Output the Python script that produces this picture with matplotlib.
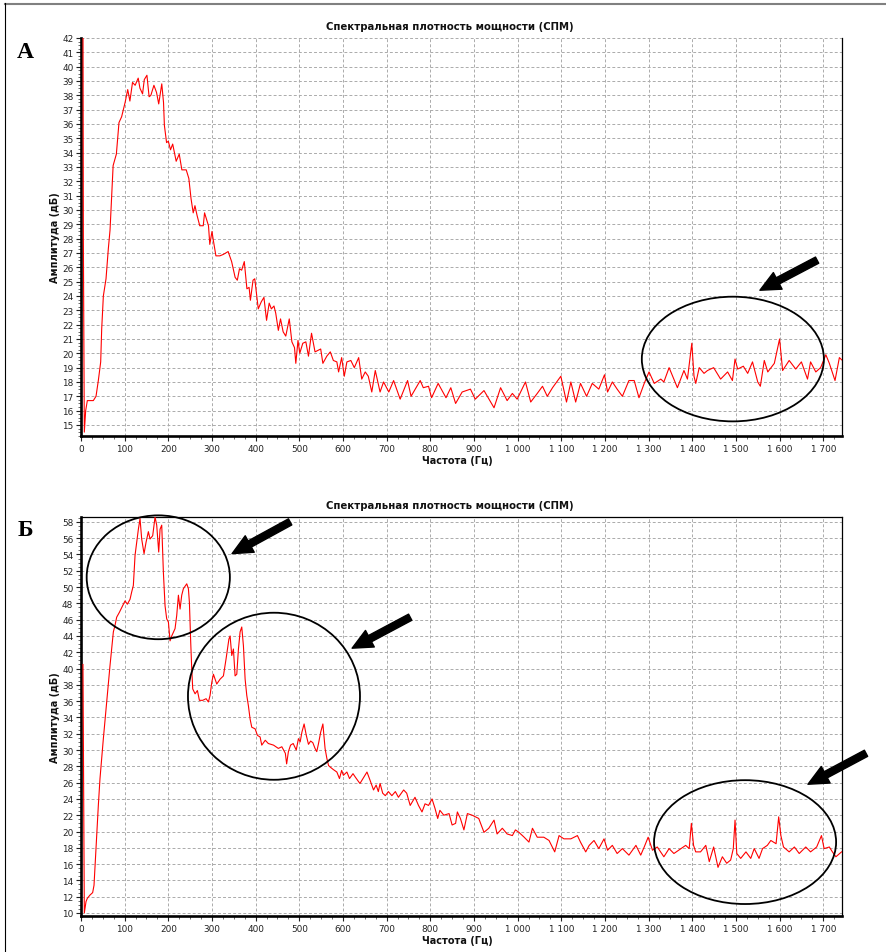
import matplotlib
matplotlib.use("Agg")
import matplotlib.pyplot as plt
import matplotlib.patches as patches
import matplotlib.lines as lines
from matplotlib.ticker import MultipleLocator, FuncFormatter

W, H, DPI = 887, 953, 100

title = "Спектральная плотность мощности (СПМ)"
x_label = "Частота (Гц)"
y_label = "Амплитуда (дБ)"
panel_letters = ["А", "Б"]

# panel A: frequency (Hz) and amplitude (dB)
freq_a = [4.5, 5.4, 7.6, 10.7, 14.5, 20.6, 28.2, 34.4, 39.7, 45.1, 47.4, 51.2, 57.3, 62.6, 66.5,
          73.6, 81, 87, 93, 101, 107, 112, 118, 124, 131, 135, 141, 145, 151, 156, 160, 167,
          173, 178, 185, 189, 191, 196, 200, 205, 210, 218, 225, 231, 241, 247, 252, 257, 261,
          266, 272, 280, 283, 292, 295, 300, 303, 309, 318, 326, 337, 345, 353, 358, 363, 368,
          374, 380, 385, 388, 394, 398, 406, 413, 419, 425, 431, 436, 442, 446, 452, 457, 463,
          469, 477, 483, 489, 492, 497, 501, 508, 515, 521, 528, 536, 549, 554, 563, 571, 578,
          586, 590, 597, 603, 609, 618, 626, 636, 643, 651, 658, 666, 674, 685, 693, 705, 716,
          731, 748, 756, 777, 784, 796, 803, 818, 836, 847, 858, 873, 892, 903, 923, 946, 961,
          976, 988, 999, 1018, 1030, 1045, 1057, 1068, 1080, 1099, 1112, 1122, 1133, 1144, 1158,
          1171, 1186, 1199, 1206, 1217, 1228, 1240, 1255, 1267, 1278, 1290, 1301, 1313, 1328,
          1335, 1347, 1366, 1381, 1389, 1399, 1404, 1408, 1416, 1427, 1435, 1449, 1465, 1481,
          1492, 1498, 1504, 1517, 1527, 1538, 1550, 1556, 1565, 1573, 1588, 1600, 1607, 1622,
          1637, 1650, 1664, 1671, 1683, 1694, 1706, 1714, 1727, 1737, 1744]
amp_a = [44.0, 28.0, 14.5, 16.0, 16.7, 16.7, 16.7, 17.0, 18.1, 19.4, 21.7, 24.0, 25.2, 27.3, 28.6,
         33.1, 33.9, 36.1, 36.5, 37.5, 38.4, 37.6, 38.9, 38.7, 39.2, 38.5, 38.1, 39.1, 39.4, 37.9, 38.0, 38.7,
         38.2, 37.4, 38.8, 37.5, 35.9, 34.7, 34.8, 34.2, 34.6, 33.4, 33.9, 32.8, 32.8, 32.2, 30.8, 29.8, 30.3,
         29.6, 28.9, 28.9, 29.8, 28.9, 27.6, 28.5, 27.9, 26.8, 26.8, 26.9, 27.1, 26.4, 25.3, 25.1, 25.9, 25.8,
         26.4, 24.5, 24.6, 23.7, 25.1, 25.2, 23.1, 23.6, 23.9, 22.3, 23.5, 23.1, 23.3, 22.8, 21.6, 22.4, 21.5,
         21.2, 22.4, 20.8, 20.4, 19.3, 20.9, 20.0, 20.7, 20.8, 19.8, 21.4, 20.1, 20.3, 19.3, 19.8, 20.1, 19.5,
         19.4, 18.7, 19.7, 18.4, 19.4, 19.5, 19.0, 19.7, 18.2, 18.7, 18.4, 17.3, 18.8, 17.3, 18.0, 17.3, 18.1,
         16.8, 18.1, 17.0, 18.1, 17.6, 17.7, 16.9, 17.9, 16.9, 17.6, 16.5, 17.3, 17.5, 16.8, 17.4, 16.2, 17.6,
         16.7, 17.2, 16.8, 18.0, 16.6, 17.2, 17.7, 17.0, 17.6, 18.4, 16.6, 18.0, 16.6, 17.9, 17.0,
         17.9, 17.5, 18.5, 17.3, 18.0, 17.5, 17.0, 18.1, 18.1, 16.9, 17.9, 18.7, 17.9, 18.2,
         18.0, 19.0, 17.6, 18.8, 18.2, 20.7, 18.4, 17.9, 19.0, 18.6, 18.8, 19.0, 18.2, 18.7,
         18.1, 19.6, 18.9, 19.1, 18.6, 19.4, 18.0, 17.7, 19.5, 18.7, 19.3, 21.0, 18.8, 19.5,
         18.9, 19.4, 18.2, 19.4, 18.7, 19.0, 19.9, 19.3, 18.1, 19.7, 19.5]

# panel Б
freq_b = [4.5, 7.6, 11.5, 14.5, 20.6, 26.7, 29.8, 34.4, 39.7, 43.5, 47.4, 51.2, 58.8, 66.5, 74.1,
          77.9, 81.7, 87.9, 97.0, 100.8, 106.2, 112.3, 116.1, 119.9, 123.8, 127.6, 131.4, 135.2,
          139.0, 144.4, 149.0, 154.3, 158.1, 164.2, 169.6, 173.4, 178.0, 181.1, 184.9, 188.7,
          192.5, 196.3, 200.2, 204.0, 207.8, 215.4, 219.2, 223.1, 226.9, 230.7, 234.5, 242.2,
          246.0, 248.3, 251.3, 253.6, 255.9, 261.3, 266.6, 271.2, 278.8, 286.5, 291.8, 295.6,
          299.5, 303.3, 307.1, 310.9, 318.6, 326.2, 332.3, 338.7, 341.5, 345.3, 349.1, 352.9,
          356.8, 360.6, 364.4, 368.2, 372.0, 375.9, 379.7, 383.5, 387.3, 391.1, 398.8, 404.1,
          410.2, 414, 418, 422, 429, 441, 452, 460, 468, 471, 475, 480, 486, 493, 498, 502, 506,
          511, 516, 521, 526, 531, 536, 540, 544, 549, 554, 557, 559, 563, 567, 571, 578, 586,
          592, 597, 601, 609, 615, 623, 628, 636, 639, 647, 655, 662, 670, 676, 681, 685, 691,
          697, 704, 712, 720, 727, 739, 746, 754, 765, 773, 781, 788, 796, 804, 811, 817, 822,
          831, 843, 850, 858, 862, 869, 877, 885, 896, 911, 923, 934, 946, 953, 965, 976, 988,
          995, 1003, 1015, 1026, 1034, 1045, 1060, 1072, 1085, 1095, 1106, 1122, 1137, 1144,
          1156, 1164, 1175, 1186, 1198, 1206, 1217, 1228, 1240, 1255, 1271, 1282, 1290, 1299,
          1309, 1320, 1335, 1347, 1358, 1374, 1385, 1393, 1398, 1403, 1408, 1419, 1431, 1439,
          1449, 1459, 1469, 1479, 1488, 1494, 1498, 1502, 1511, 1523, 1534, 1542, 1553, 1561,
          1572, 1580, 1592, 1598, 1603, 1609, 1622, 1634, 1645, 1660, 1671, 1685, 1696, 1702,
          1714, 1721, 1729, 1742]
amp_b = [40.5, 10.0, 11.4, 11.8, 12.2, 12.5, 13.4, 17.9, 23.2, 26.5, 29.0, 31.4, 35.9, 40.4, 44.5,
         45.3, 46.3, 46.9, 47.9, 48.3, 47.9, 48.5, 49.4, 50.2, 53.9, 55.5, 57.1, 58.4,
         55.9, 54.1, 55.5, 56.8, 55.9, 56.3, 58.6, 57.6, 54.3, 57.1, 57.6, 51.8,
         47.7, 46.1, 45.7, 43.4, 44.0, 44.9, 46.5, 49.0, 47.3, 49.0, 49.8, 50.4,
         49.8, 48.1, 43.2, 40.0, 37.5, 36.9, 37.3, 36.1, 36.1, 36.3, 35.9, 36.7,
         38.3, 39.3, 38.7, 38.1, 38.7, 39.1, 41.2, 43.6, 44.0, 41.6, 42.4, 39.1,
         39.3, 42.4, 44.5, 45.1, 42.8, 38.7, 36.7, 35.4, 33.8, 32.8, 32.6, 31.8,
         31.6, 30.6, 30.9, 31.2, 30.8, 30.6, 30.2, 30.4, 29.6, 28.3, 29.8, 30.6, 30.8, 30.0, 31.4, 31.0, 32.2,
         33.2, 31.8, 30.7, 31.1, 30.9, 30.2, 29.8, 30.8, 32.2, 33.2, 31.4, 30.2, 29.0, 28.1, 27.9, 27.6, 27.3,
         26.5, 27.5, 26.9, 27.3, 26.5, 27.1, 26.7, 26.1, 25.9, 26.6, 27.3, 26.3, 25.1, 25.7, 24.9, 25.9, 24.7,
         24.4, 24.9, 24.4, 24.9, 24.2, 25.1, 24.7, 23.2, 24.2, 23.2, 22.4, 23.4, 23.2, 24.0, 22.8, 21.6, 22.6,
         22.0, 22.2, 20.8, 21.0, 22.4, 21.6, 20.2, 22.2, 22.0, 21.6, 19.9, 20.4, 21.4, 19.7, 20.4, 19.7, 19.5,
         20.2, 19.9, 19.3, 18.7, 20.4, 19.3, 19.3, 18.9, 17.5, 19.5, 19.1, 19.1, 19.5, 18.7,
         17.5, 18.3, 18.9, 17.9, 19.1, 17.7, 18.3, 17.3, 17.9, 17.1, 18.3, 17.1, 18.1, 19.3,
         17.7, 18.1, 16.9, 17.9, 17.3, 17.9, 18.3, 17.9, 21.0, 18.3, 17.5, 17.5, 18.3, 16.3,
         18.1, 15.6, 16.9, 16.1, 16.5, 17.9, 21.4, 17.3, 16.7, 17.5, 16.7, 17.9, 16.7, 17.9,
         18.3, 18.9, 18.5, 21.8, 19.5, 18.1, 17.5, 18.1, 17.3, 18.1, 17.5, 18.1, 19.5, 17.9,
         18.1, 17.5, 16.9, 17.5]

x_max = 1743
ylim_a = (14.23, 42.0)
ylim_b = (9.63, 58.6)

# highlighted regions: (center Hz, center dB, width Hz, height dB)
ellipses_a = [(1493, 19.6, 417, 8.7)]
ellipses_b = [(177, 51.2, 328, 15.2), (442, 36.6, 394, 20.5), (1521, 18.7, 417, 15.2)]
# arrows: (tail Hz, tail dB, head Hz, head dB)
arrows_a = [(1686, 26.5, 1555, 24.4)]
arrows_b = [(479, 58.0, 346, 54.1), (754, 46.3, 621, 42.5), (1798, 29.6, 1665, 25.8)]


def hz_fmt(v, pos):
    return f"{int(round(v)):,}".replace(",", " ")


def style_axes(ax, ylim, ystep, yminor, top_visible):
    ax.set_xlim(0, x_max)
    ax.set_ylim(*ylim)
    ax.xaxis.set_major_locator(MultipleLocator(100))
    ax.xaxis.set_minor_locator(MultipleLocator(25))
    ax.yaxis.set_major_locator(MultipleLocator(ystep))
    ax.yaxis.set_minor_locator(MultipleLocator(yminor))
    ax.xaxis.set_major_formatter(FuncFormatter(hz_fmt))
    ax.grid(True, which="major", color="#ababab", linestyle=(0, (3, 2.2)), linewidth=0.7)
    ax.set_axisbelow(True)
    ax.tick_params(which="major", length=3.5, width=0.8, labelsize=6.4,
                   colors="#222222", pad=2)
    ax.tick_params(which="minor", length=2, width=0.6, colors="#555555")
    ax.spines["left"].set_linewidth(1.9)
    ax.spines["bottom"].set_linewidth(1.9)
    ax.spines["right"].set_linewidth(0.9)
    if top_visible:
        ax.spines["top"].set_linewidth(0.9)
    else:
        ax.spines["top"].set_visible(False)


def annotate(ax, ellipses, arrows):
    for cx, cy, w, h in ellipses:
        ax.add_patch(patches.Ellipse((cx, cy), w, h, fill=False, edgecolor="black",
                                     linewidth=1.3, clip_on=False, zorder=5))
    for x0, y0, x1, y1 in arrows:
        ax.annotate("", xy=(x1, y1), xytext=(x0, y0), annotation_clip=False,
                    arrowprops=dict(arrowstyle="simple,head_length=1.45,head_width=1.35,tail_width=0.5",
                                    fc="black", ec="black", mutation_scale=10,
                                    shrinkA=0, shrinkB=0), zorder=6)


fig = plt.figure(figsize=(W / DPI, H / DPI), dpi=DPI)
fig.patch.set_facecolor("white")

ax_a = fig.add_axes([81 / W, 1 - 437 / H, 761 / W, 398 / H])
ax_b = fig.add_axes([81 / W, 1 - 917 / H, 761 / W, 399 / H])

style_axes(ax_a, ylim_a, 1, 0.25, False)
style_axes(ax_b, ylim_b, 2, 0.5, True)

ax_a.plot(freq_a, amp_a, color="#ff0000", linewidth=0.8, zorder=3)
ax_b.plot(freq_b, amp_b, color="#ff0000", linewidth=0.8, zorder=3)

annotate(ax_a, ellipses_a, arrows_a)
annotate(ax_b, ellipses_b, arrows_b)

# titles, axis labels and panel letters
for top, bottom, letter in [(39, 437, panel_letters[0]), (518, 917, panel_letters[1])]:
    fig.text(450 / W, 1 - (top - 12) / H, title, ha="center", va="center",
             fontsize=7.3, fontweight="bold", color="#111111")
    fig.text(457 / W, 1 - (bottom + 24) / H, x_label, ha="center", va="center",
             fontsize=7, fontweight="bold", color="#111111")
    fig.text(55 / W, 1 - (top + bottom) / 2 / H, y_label, ha="center", va="center",
             rotation=90, fontsize=7, fontweight="bold", color="#111111")
    fig.text(25 / W, 1 - (top + 13) / H, letter, ha="center", va="center",
             fontsize=17, fontweight="bold", family="Liberation Serif")

# frame of the original picture
fig.add_artist(lines.Line2D([5 / W, 885 / W], [1 - 5 / H, 1 - 5 / H], color="#808080",
                            linewidth=1.5))
fig.add_artist(lines.Line2D([5.5 / W, 5.5 / W], [0, 1 - 4 / H], color="black", linewidth=0.8))

fig.savefig("out.png", dpi=DPI)
